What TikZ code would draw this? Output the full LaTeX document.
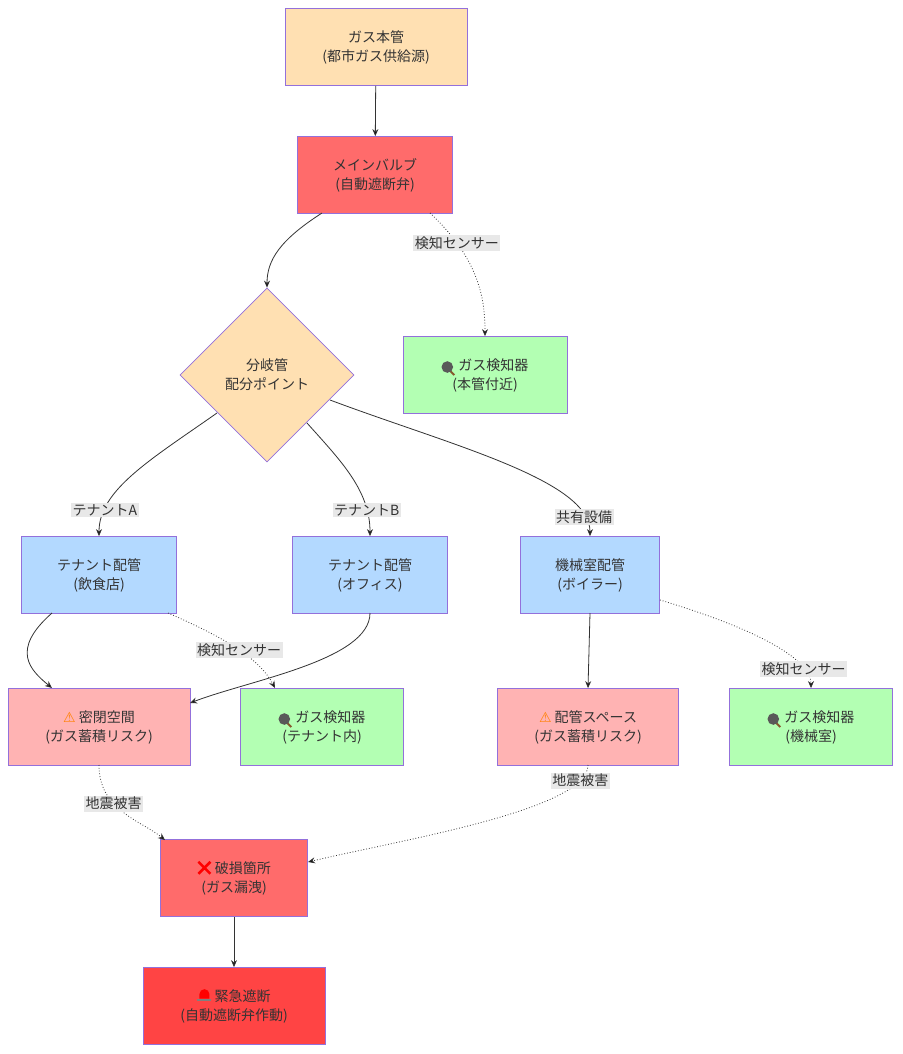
\documentclass[tikz,border=0pt]{standalone}
\usepackage{fontspec}
\setmainfont{Noto Sans CJK JP}
\newfontfamily\dvs{DejaVu Sans}
\usetikzlibrary{shapes.geometric,arrows.meta}
\definecolor{peach}{HTML}{FFE0B2}
\definecolor{red1}{HTML}{FF6B6B}
\definecolor{red2}{HTML}{FF4444}
\definecolor{pink1}{HTML}{FFB3B3}
\definecolor{green1}{HTML}{B3FFB3}
\definecolor{blue1}{HTML}{B3D9FF}
\definecolor{bord}{HTML}{9370DB}
\definecolor{lbl}{HTML}{E8E8E8}
\newcommand{\magicon}{\tikz[baseline=-2pt,x=1pt,y=1pt]{\draw[line width=2pt,color=brown!70!black](3,-3)--(7,-7);\draw[line width=1.5pt,fill=cyan!15,color=gray!70!black](0,1) circle (5);}}
\newcommand{\sirenicon}{\tikz[baseline=0pt,x=1pt,y=1pt]{\fill[gray](-7,0) rectangle (7,2.5);\fill[red](-5,2.5) -- (-5,7) arc(180:0:5) -- (5,2.5) --cycle;}}
\newcommand{\crossicon}{\tikz[baseline=0pt,x=1pt,y=1pt]{\draw[red,line width=2.6pt](-6,0)--(6,12)(-6,12)--(6,0);}}
\begin{document}
\begin{tikzpicture}[x=1pt,y=-1pt,
  every node/.style={font=\fontsize{14}{19}\selectfont, text=black!80, align=center},
  box/.style={draw=bord, line width=0.8pt, minimum height=77pt, inner sep=0pt},
  lab/.style={fill=lbl, inner sep=1.5pt, font=\fontsize{14}{16}\selectfont},
  ar/.style={draw=black!80, line width=0.8pt, -{Stealth[length=7pt,width=6pt]}},
  dar/.style={ar, dotted}]
\useasboundingbox[fill=white] (0,0) rectangle (902,1054);
\node[box,fill=peach,minimum width=182pt] (gm) at (376,47) {ガス本管\\(都市ガス供給源)};
\node[box,fill=red1,minimum width=155pt] (mv) at (375,175) {メインバルブ\\(自動遮断弁)};
\node[draw=bord,line width=0.8pt,fill=peach,diamond,minimum width=174pt,minimum height=174pt,inner sep=0pt] (dm) at (267,375) {分岐管\\配分ポイント};
\node[box,fill=green1,minimum width=164pt] (d1) at (485,375) {\magicon\ ガス検知器\\(本管付近)};
\node[box,fill=blue1,minimum width=155pt] (ta) at (99,575) {テナント配管\\(飲食店)};
\node[box,fill=blue1,minimum width=155pt] (tb) at (370,575) {テナント配管\\(オフィス)};
\node[box,fill=blue1,minimum width=139pt] (mr) at (590,575) {機械室配管\\(ボイラー)};
\node[box,fill=pink1,minimum width=182pt] (ss) at (99,727) {{\dvs\color{orange}⚠} 密閉空間\\(ガス蓄積リスク)};
\node[box,fill=green1,minimum width=163pt] (d2) at (322,727) {\magicon\ ガス検知器\\(テナント内)};
\node[box,fill=pink1,minimum width=181pt] (ps) at (588,727) {{\dvs\color{orange}⚠} 配管スペース\\(ガス蓄積リスク)};
\node[box,fill=green1,minimum width=163pt] (d3) at (811,727) {\magicon\ ガス検知器\\(機械室)};
\node[box,fill=red1,minimum width=147pt] (br) at (234,878) {\crossicon\ 破損箇所\\(ガス漏洩)};
\node[box,fill=red2,minimum width=182pt] (em) at (234,1006) {\sirenicon\ 緊急遮断\\(自動遮断弁作動)};
\coordinate (mvb) at (322,213); \coordinate (mvr) at (430,213);
\draw[ar] (gm) -- (mv);
\draw[ar] (mvb) .. controls (280,240) and (267,260) .. (dm.north);
\draw[dar] (mvr) .. controls (480,260) and (485,300) .. (d1.north) node[pos=0.22,lab]{検知センサー};
\draw[ar] (217,413) .. controls (150,460) and (99,490) .. (ta.north) node[pos=0.8,lab]{テナントA};
\draw[ar] (307,423) .. controls (340,460) and (370,490) .. (tb.north) node[pos=0.8,lab]{テナントB};
\draw[ar] (330,400) .. controls (450,445) and (590,480) .. (mr.north) node[pos=0.88,lab]{共有設備};
\draw[ar] (52,613) .. controls (10,650) and (30,670) .. (52,688);
\draw[dar] (168,613) .. controls (230,640) and (260,660) .. (275,688) node[pos=0.5,lab]{検知センサー};
\draw[ar] (370,613) .. controls (370,660) and (250,680) .. (190,703);
\draw[ar] (590,613) -- (ps.north);
\draw[dar] (660,600) .. controls (760,630) and (811,660) .. (d3.north) node[pos=0.78,lab]{検知センサー};
\draw[dar] (99,765) .. controls (99,810) and (140,820) .. (165,840) node[pos=0.38,lab]{地震被害};
\draw[dar] (588,765) .. controls (588,810) and (400,840) .. (308,862) node[pos=0.12,lab]{地震被害};
\draw[ar] (br) -- (em);
\end{tikzpicture}
\end{document}
